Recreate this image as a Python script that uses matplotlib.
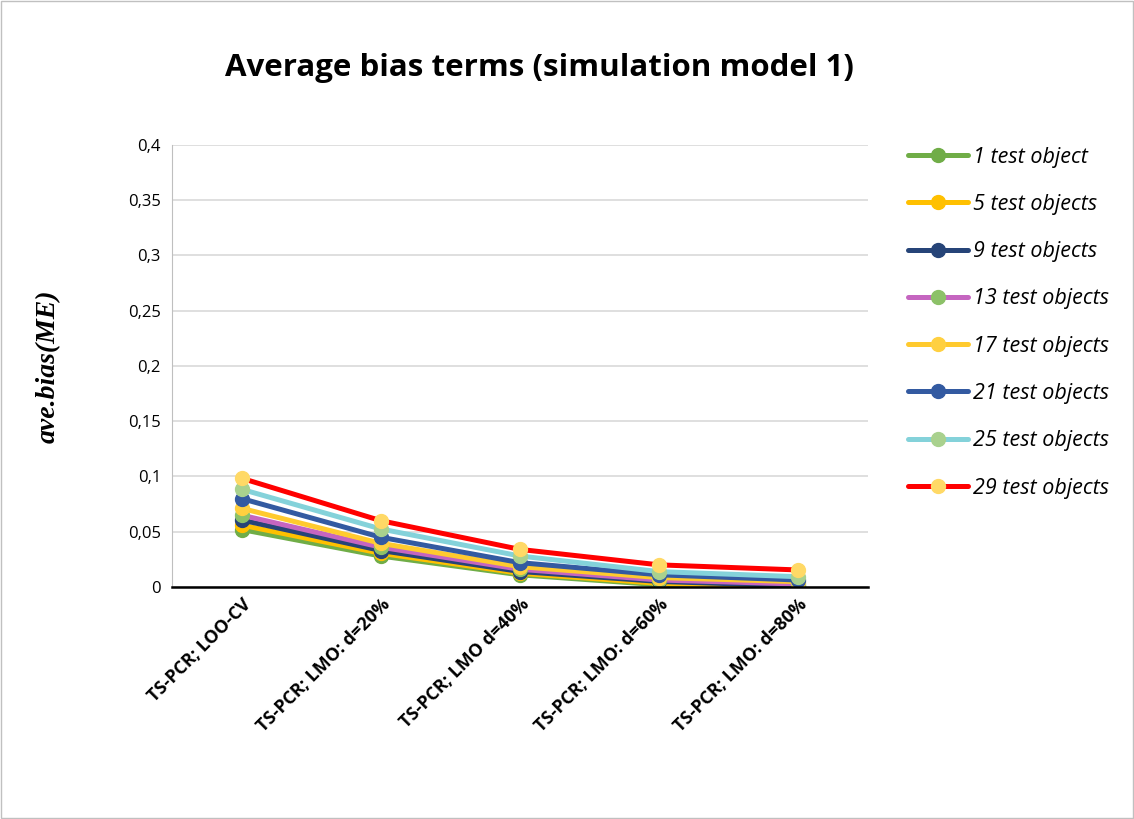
import matplotlib
matplotlib.use("Agg")
from matplotlib import pyplot as plt
from matplotlib.ticker import FuncFormatter

# categories on the x axis
methods = ["TS-PCR; LOO-CV", "TS-PCR; LMO: d=20%", "TS-PCR; LMO d=40%",
           "TS-PCR; LMO: d=60%", "TS-PCR; LMO: d=80%"]

# series names
labels = ["1 test object", "5 test objects", "9 test objects", "13 test objects",
          "17 test objects", "21 test objects", "25 test objects", "29 test objects"]

# average bias values
s1 = [0.052, 0.028, 0.011, 0.002, 0.0]
s5 = [0.056, 0.0305, 0.0124, 0.0033, 0.0002]
s9 = [0.0606, 0.033, 0.014, 0.005, 0.001]
s13 = [0.065, 0.036, 0.016, 0.0063, 0.0027]
s17 = [0.0712, 0.0395, 0.0184, 0.0085, 0.0048]
s21 = [0.080, 0.045, 0.022, 0.011, 0.0063]
s25 = [0.0884, 0.0525, 0.028, 0.0139, 0.0093]
s29 = [0.0984, 0.060, 0.034, 0.020, 0.0154]
series = [s1, s5, s9, s13, s17, s21, s25, s29]

line_cols = ["#70AD47", "#FFC000", "#264478", "#C565C0",
             "#FFCA2E", "#335AA1", "#84D2DA", "#FF0000"]
marker_cols = ["#70AD47", "#FFC000", "#264478", "#8CC168",
               "#FFD040", "#335AA1", "#A9D18E", "#FFD966"]

fig = plt.figure(figsize=(11.34, 8.19), dpi=100)
ax = fig.add_axes([0.1517, 0.2833, 0.6137, 0.5397])

x = range(len(methods))
for vals, lab, lc, mc in zip(series, labels, line_cols, marker_cols):
    ax.plot(x, vals, color=lc, lw=3.6, marker="o", markersize=10,
            markerfacecolor=mc, markeredgecolor=mc, label=lab,
            solid_capstyle="round")

ax.set_ylim(0, 0.4)
ax.set_xlim(-0.5, len(methods) - 0.5)
ax.set_yticks([0, 0.05, 0.1, 0.15, 0.2, 0.25, 0.3, 0.35, 0.4])
ax.yaxis.set_major_formatter(FuncFormatter(lambda v, p: ("%g" % round(v, 2)).replace(".", ",")))
ax.grid(axis="y", color="#d9d9d9", lw=1.2)
ax.set_axisbelow(True)
ax.tick_params(axis="y", length=0, labelsize=12, pad=8)
ax.tick_params(axis="x", length=0, pad=6)
ax.set_xticks(list(x))
ax.set_xticklabels(methods, rotation=45, ha="right", rotation_mode="anchor",
                   fontsize=13, fontweight="bold")
for t in ax.get_yticklabels():
    t.set_family("Open Sans")
for t in ax.get_xticklabels():
    t.set_family("Open Sans")

ax.spines["top"].set_visible(False)
ax.spines["right"].set_visible(False)
ax.spines["left"].set_color("#bfbfbf")
ax.spines["bottom"].set_color("black")
ax.spines["bottom"].set_linewidth(1.8)

ax.set_ylabel("ave.bias(ME)", family="Liberation Serif", fontsize=20,
              fontweight="bold", fontstyle="italic", labelpad=48)

fig.text(0.476, 0.917, "Average bias terms (simulation model 1)", ha="center",
         va="center", family="Open Sans", fontsize=22.5, fontweight="bold")

leg = ax.legend(loc="upper left", bbox_to_anchor=(1.03, 1.04), frameon=False,
                prop={"family": "Open Sans", "style": "italic", "size": 15.5},
                labelspacing=1.22, handlelength=2.8, handletextpad=0.2)

fig.patches.append(plt.Rectangle((0.001, 0.001), 0.998, 0.998, transform=fig.transFigure,
                                 fill=False, edgecolor="#c0c0c0", lw=1))

fig.savefig("out.png", dpi=100)
